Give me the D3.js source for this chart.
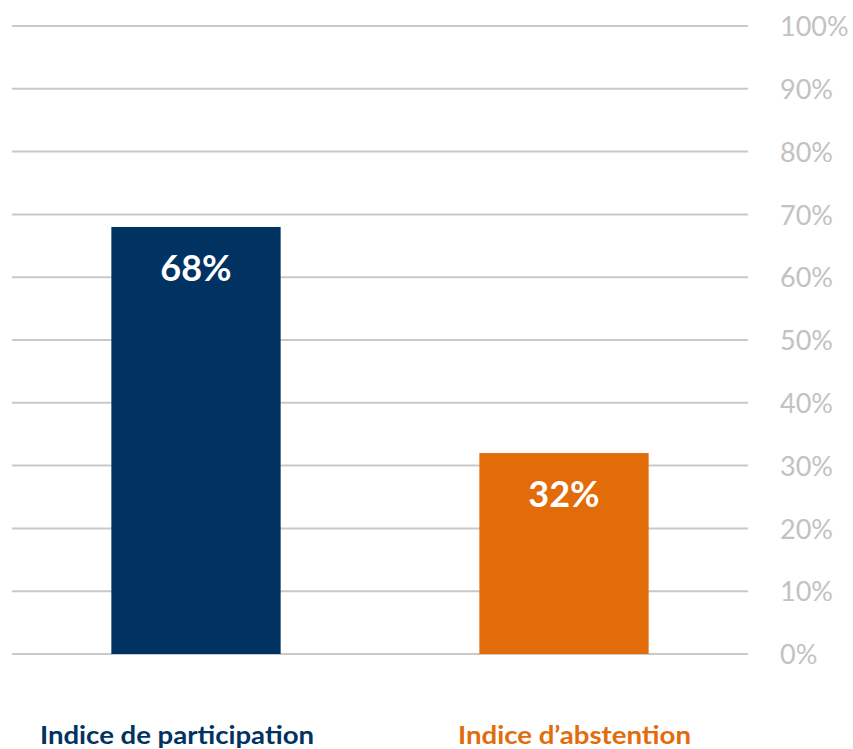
<!DOCTYPE html>
<html><head><meta charset="utf-8">
<script src="https://cdn.jsdelivr.net/npm/d3@7"></script>
<style>body{margin:0;background:#fff}</style>
</head><body>
<svg id="c" width="853" height="749"></svg>
<script>
const categories = ["Indice de participation", "Indice d\u2019abstention"];
const values = [68, 32];
const colors = ["#003262", "#E36C0A"];
const ticks = [0,10,20,30,40,50,60,70,80,90,100];

const svg = d3.select("#c");
const y = d3.scaleLinear().domain([0,100]).range([654,26]);
const x = d3.scaleBand().domain(categories).range([12,748]).paddingInner(0.54).paddingOuter(0.27);

svg.append("g").selectAll("line").data(ticks).join("line")
  .attr("x1",12).attr("x2",748)
  .attr("y1",d=>y(d)).attr("y2",d=>y(d))
  .attr("stroke","#c9c9c9").attr("stroke-width",2);

const axis = d3.axisRight(y).tickValues(ticks).tickFormat(d=>d+"%").tickSize(0).tickPadding(0);
const ag = svg.append("g").attr("transform","translate(780,0)").call(axis);
ag.select(".domain").remove();
ag.selectAll("text").attr("font-family","Lato").attr("font-size",27).attr("fill","#c2c2c2").attr("dy","0.36em");

svg.append("g").selectAll("rect").data(values).join("rect")
  .attr("x",(d,i)=>x(categories[i])).attr("width",x.bandwidth())
  .attr("y",d=>y(d)).attr("height",d=>y(0)-y(d))
  .attr("fill",(d,i)=>colors[i]);

svg.append("g").selectAll("text").data(values).join("text")
  .attr("x",(d,i)=>x(categories[i])+x.bandwidth()/2)
  .attr("y",d=>y(d)+54)
  .attr("text-anchor","middle").attr("font-family","Lato").attr("font-weight","bold")
  .attr("font-size",36).attr("fill","#fff").text(d=>d+"%");

const labelX = [40, 458];
const labelW = [274, 233];
svg.append("g").selectAll("text").data(categories).join("text")
  .attr("x",(d,i)=>labelX[i]).attr("y",744)
  .attr("font-family","Lato").attr("font-weight","bold")
  .attr("textLength",(d,i)=>labelW[i]).attr("lengthAdjust","spacingAndGlyphs")
  .attr("font-size",25).attr("fill",(d,i)=>colors[i]).text(d=>d);
</script>
</body></html>
